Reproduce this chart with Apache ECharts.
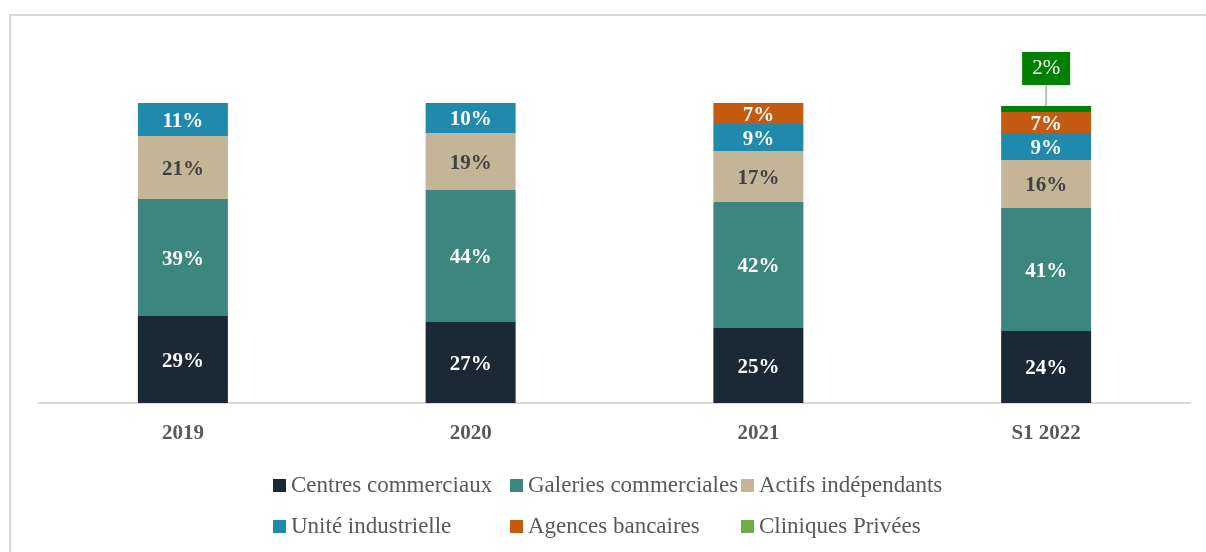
<!DOCTYPE html>
<html>
<head>
<meta charset="utf-8">
<script src="https://cdn.jsdelivr.net/npm/echarts@6/dist/echarts.min.js"></script>
<style>
  html, body { margin: 0; padding: 0; background: #fff; }
  #chart { width: 1206px; height: 552px; }
</style>
</head>
<body>
<div id="chart"></div>
<script>
// Répartition des transactions par type d'actif (en %)
const periods = ['2019', '2020', '2021', 'S1 2022'];
const centresCommerciaux = [29, 27, 25, 24];
const galeriesCommerciales = [39, 44, 42, 41];
const actifsIndependants = [21, 19, 17, 16];
const uniteIndustrielle = [11, 10, 9, 9];
const agencesBancaires = [null, null, 7, 7];
const cliniquesPrivees = [null, null, null, 2];

const seriesNames = [
  'Centres commerciaux', 'Galeries commerciales', 'Actifs indépendants',
  'Unité industrielle', 'Agences bancaires', 'Cliniques Privées'
];
const seriesValues = [
  centresCommerciaux, galeriesCommerciales, actifsIndependants,
  uniteIndustrielle, agencesBancaires, cliniquesPrivees
];
const colors = ['#1b2836', '#3d8680', '#c4b598', '#1f8aad', '#c55a11', '#008000'];
const legendColors = ['#1b2836', '#3d8680', '#c4b598', '#1f8aad', '#c55a11', '#70ad47'];
const labelColors = ['#ffffff', '#ffffff', '#404040', '#ffffff', '#ffffff', '#ffffff'];

const FONT = '"Liberation Serif", "DejaVu Serif", serif';

const chart = echarts.init(document.getElementById('chart'), null, { renderer: 'canvas' });

const series = seriesNames.map((name, i) => {
  const s = {
    name: name,
    type: 'bar',
    stack: 'total',
    barWidth: 90,
    data: seriesValues[i],
    itemStyle: { color: colors[i] },
    label: {
      show: true,
      position: 'inside',
      offset: [0, 2],
      formatter: p => p.value == null ? '' : p.value + '%',
      color: labelColors[i],
      fontFamily: FONT,
      fontWeight: 'bold',
      fontSize: 21
    }
  };
  if (i === 5) {
    s.label = {
      show: true,
      position: 'top',
      distance: 0,
      formatter: p => p.value == null ? '' : p.value + '%',
      color: '#ffffff',
      fontFamily: FONT,
      fontWeight: 'normal',
      fontSize: 21,
      backgroundColor: '#008000',
      padding: [6, 10, 6, 10]
    };
    s.labelLayout = { dy: -21 };
    s.labelLine = { show: true, lineStyle: { color: '#bfbfbf', width: 2 } };
  }
  return s;
});

// The legend is laid out as a 3-column, 2-row grid: one vertical legend per column
const columnLeft = [268, 505, 736];
function legendColumn(col) {
  const idx = [col, col + 3];
  return {
    top: 469,
    left: columnLeft[col],
    orient: 'vertical',
    data: idx.map(i => ({ name: seriesNames[i], itemStyle: { color: legendColors[i] } })),
    icon: 'rect',
    itemWidth: 13,
    itemHeight: 13,
    itemGap: 18,
    selectedMode: false,
    textStyle: {
      fontFamily: FONT,
      fontSize: 23,
      lineHeight: 23,
      color: '#595959'
    }
  };
}

chart.setOption({
  animation: false,
  backgroundColor: '#ffffff',
  graphic: [{
    type: 'rect',
    silent: true,
    shape: { x: 10, y: 15, width: 1400, height: 700 },
    style: { fill: 'none', stroke: '#d9d9d9', lineWidth: 2 }
  }],
  grid: { left: 39, right: 16, top: 103, bottom: 149 },
  legend: [legendColumn(0), legendColumn(1), legendColumn(2)],
  xAxis: {
    type: 'category',
    data: periods,
    axisLine: { lineStyle: { color: '#d9d9d9', width: 2 } },
    axisTick: { show: false },
    axisLabel: {
      margin: 20,
      fontFamily: FONT,
      fontWeight: 'bold',
      fontSize: 21,
      color: '#595959'
    }
  },
  yAxis: {
    type: 'value',
    min: 0,
    max: 100,
    show: false
  },
  series: series
});
</script>
</body>
</html>
